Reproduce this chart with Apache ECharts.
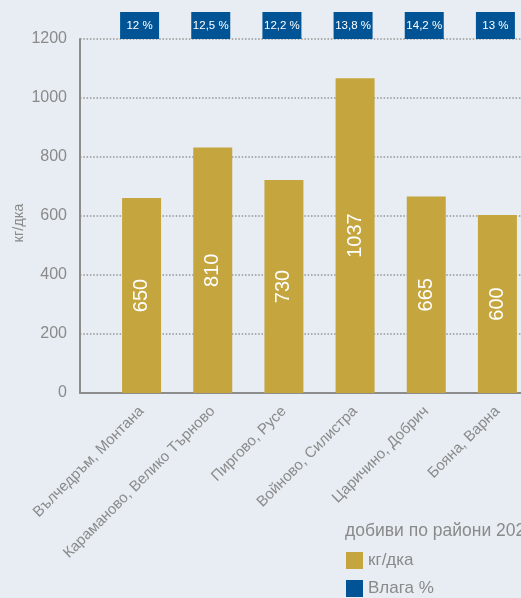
<!DOCTYPE html>
<html>
<head>
<meta charset="utf-8">
<script src="https://cdn.jsdelivr.net/npm/echarts@6/dist/echarts.min.js"></script>
<style>
html,body{margin:0;padding:0;background:#e7edf3;}
#c{width:521px;height:598px;}
</style>
</head>
<body>
<div id="c"></div>
<script>
const categories = ['Вълчедръм, Монтана','Караманово, Велико Търново','Пиргово, Русе','Войново, Силистра','Царичино, Добрич','Бояна, Варна'];
const yieldHeights = [661, 832, 722, 1067, 666, 603];
const yieldLabels = [650, 810, 730, 1037, 665, 600];
const moisture = ['12', '12,5', '12,2', '13,8', '14,2', '13'];
const yTicks = [0, 200, 400, 600, 800, 1000, 1200];

const FONT = "'Liberation Sans', Arial, sans-serif";
const GRAY = '#8a8a8a';
const GOLD = '#c5a63e';
const BLUE = '#005496';
const yMax = yTicks[yTicks.length - 1];

const chart = echarts.init(document.getElementById('c'));
chart.setOption({
  backgroundColor: '#e7edf3',
  animation: false,
  textStyle: { fontFamily: FONT },
  title: {
    text: 'добиви по райони 2024',
    left: 345, top: 522, padding: 0,
    textStyle: { fontFamily: FONT, fontSize: 17.5, fontWeight: 'normal', color: GRAY }
  },
  legend: {
    orient: 'vertical', left: 346, top: 552, padding: 0, height: 80,
    itemWidth: 17, itemHeight: 17, itemGap: 11,
    icon: 'rect',
    textStyle: { fontFamily: FONT, fontSize: 17, color: GRAY },
    data: ['кг/дка', 'Влага %']
  },
  grid: [
    { left: 80, right: -10, top: 39, bottom: 205, containLabel: false, outerBoundsMode: 'none' },
    { left: 106, right: -12, top: 39, bottom: 205, containLabel: false, outerBoundsMode: 'none' }
  ],
  xAxis: [
    { gridIndex: 0, type: 'value', min: 0, max: 1,
      axisLine: { show: true, lineStyle: { color: '#8c8c8c', width: 2 } },
      axisTick: { show: false }, axisLabel: { show: false }, splitLine: { show: false } },
    { gridIndex: 1, type: 'category', data: categories,
      axisLine: { show: false }, axisTick: { show: false },
      axisLabel: { rotate: 45, margin: 16, color: GRAY, fontFamily: FONT, fontSize: 15, interval: 0 } }
  ],
  yAxis: [
    { gridIndex: 0, type: 'value', min: yTicks[0], max: yMax, interval: 200,
      name: 'кг/дка', nameLocation: 'middle', nameGap: 54, nameRotate: 90, nameMoveOverlap: false,
      nameTextStyle: { color: GRAY, fontFamily: FONT, fontSize: 14.5, padding: [0, 0, 0, -14] },
      axisLine: { show: true, lineStyle: { color: '#8c8c8c', width: 2 } },
      axisTick: { show: false },
      axisLabel: { color: GRAY, fontFamily: FONT, fontSize: 16, margin: 13,
        formatter: v => String(v) },
      splitLine: { show: true, lineStyle: { color: '#959595', width: 1.5, type: [1.5, 1.8] } } },
    { gridIndex: 1, type: 'value', min: yTicks[0], max: yMax, show: false }
  ],
  series: [
    { name: 'кг/дка', type: 'bar', xAxisIndex: 1, yAxisIndex: 1,
      data: yieldHeights, barWidth: 39,
      itemStyle: { color: GOLD },
      label: { show: true, position: 'inside', rotate: 90, color: '#ffffff',
        fontFamily: FONT, fontSize: 20,
        formatter: p => String(yieldLabels[p.dataIndex]) } },
    { name: 'Влага %', type: 'scatter', xAxisIndex: 1, yAxisIndex: 1,
      data: categories.map(c => [c, yMax]),
      symbol: 'rect', symbolSize: [39, 27], symbolOffset: [-2, -13.5],
      clip: false, z: 5,
      itemStyle: { color: BLUE, opacity: 1 },
      label: { show: true, position: 'inside', color: '#ffffff',
        fontFamily: FONT, fontSize: 11.5,
        formatter: p => moisture[p.dataIndex] + ' %' } }
  ]
});
</script>
</body>
</html>
